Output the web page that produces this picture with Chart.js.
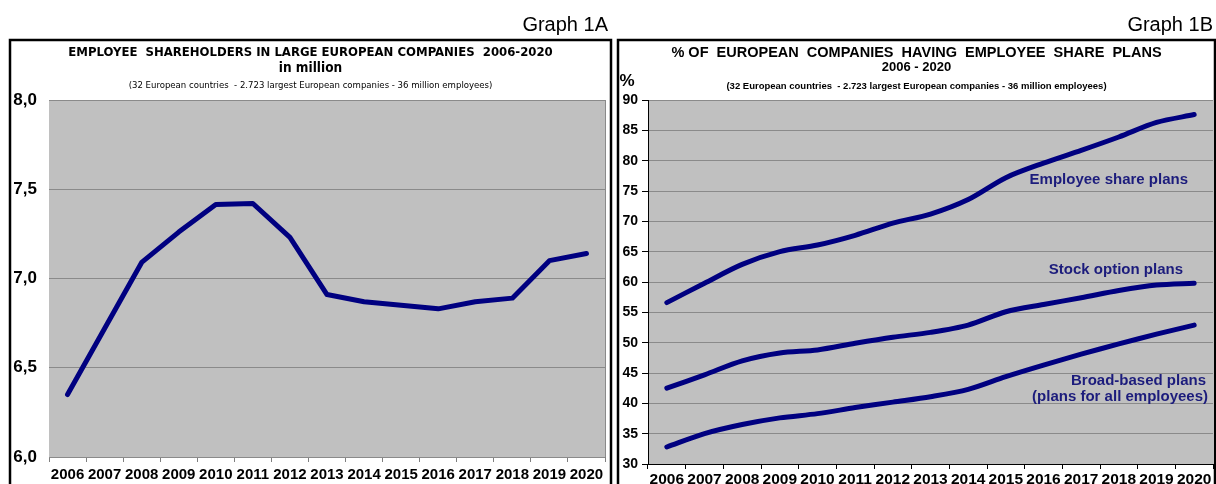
<!DOCTYPE html>
<html>
<head>
<meta charset="utf-8">
<script src="https://cdn.jsdelivr.net/npm/chart.js@4.4.1/dist/chart.umd.min.js"></script>
<style>
  html, body { margin: 0; padding: 0; background: #fff; }
  #wrap { position: relative; width: 1216px; height: 484px; overflow: hidden; }
  .box { position: absolute; top: 0; height: 484px; }
  #boxA { left: 0; width: 614px; }
  #boxB { left: 614px; width: 602px; }
</style>
</head>
<body>
<div id="wrap">
  <div class="box" id="boxA"><canvas id="chartA"></canvas></div>
  <div class="box" id="boxB"><canvas id="chartB"></canvas></div>
</div>
<script>
// data
const years = ['2006', '2007', '2008', '2009', '2010', '2011', '2012', '2013', '2014', '2015', '2016', '2017', '2018', '2019', '2020'];

// Graph 1A - employee shareholders, million
const shareholders = [6.35, 6.72, 7.09, 7.26, 7.415, 7.42, 7.23, 6.91, 6.87, 6.85, 6.83, 6.87, 6.89, 7.10, 7.14];

// Graph 1B - % of companies
const employeeSharePlans = [56.6, 59.8, 62.9, 65.0, 66.1, 67.7, 69.7, 71.2, 73.6, 77.2, 79.6, 81.7, 83.9, 86.3, 87.6];
const stockOptionPlans = [42.5, 44.7, 47.0, 48.3, 48.8, 49.9, 50.9, 51.7, 52.9, 55.1, 56.3, 57.4, 58.6, 59.5, 59.8];
const broadBasedPlans = [32.8, 35.0, 36.5, 37.6, 38.3, 39.3, 40.2, 41.1, 42.3, 44.4, 46.3, 48.1, 49.8, 51.4, 52.9];

const titleA = ['EMPLOYEE  SHAREHOLDERS IN LARGE EUROPEAN COMPANIES  2006-2020', 'in million'];
const titleB = ['% OF  EUROPEAN  COMPANIES  HAVING  EMPLOYEE  SHARE  PLANS', '2006 - 2020'];
const subtitle = '(32 European countries  - 2.723 largest European companies - 36 million employees)';
const lineNames = ['Employee share plans', 'Stock option plans', 'Broad-based plans', '(plans for all employees)'];

const NAVY = '#000080';
const LABEL_NAVY = '#1c1c7c';
const ARIAL = '"Liberation Sans", Arial, sans-serif';
const NARROW = '"Liberation Sans Narrow", "Arial Narrow", "DejaVu Sans Condensed", sans-serif';

// grey plot area, black frame, titles and line labels
const decor = {
  id: 'decor',
  beforeDraw(chart, args, opts) {
    const { ctx, chartArea: a } = chart;
    ctx.save();
    ctx.fillStyle = '#c0c0c0';
    ctx.fillRect(a.left, a.top, a.right - a.left, a.bottom - a.top);
    ctx.restore();
  },
  afterDraw(chart, args, opts) {
    const { ctx, chartArea: a } = chart;
    const f = opts.frame;
    ctx.save();
    if (opts.rightEdge) {
      ctx.strokeStyle = opts.rightEdge;
      ctx.lineWidth = 1;
      ctx.beginPath();
      ctx.moveTo(a.right + 0.5, a.top);
      ctx.lineTo(a.right + 0.5, a.bottom);
      ctx.stroke();
    }
    ctx.strokeStyle = '#000';
    ctx.lineWidth = f.width;
    ctx.strokeRect(f.left, f.top, f.right - f.left, 600);

    const mid = (f.left + f.right) / 2;
    ctx.textBaseline = 'middle';
    opts.texts.forEach(t => {
      ctx.font = t.font;
      ctx.fillStyle = t.color || '#000';
      ctx.textAlign = t.align || 'center';
      ctx.fillText(t.text, t.x == null ? mid : t.x, t.y);
    });

    const ys = chart.scales.y;
    (opts.lineLabels || []).forEach(l => {
      ctx.font = l.font;
      ctx.fillStyle = LABEL_NAVY;
      ctx.textAlign = 'right';
      ctx.fillText(l.text, a.right - l.inset, ys.getPixelForValue(l.at));
    });
    ctx.restore();
  }
};

const lineStyle = {
  borderColor: NAVY,
  borderWidth: 5,
  pointRadius: 0,
  borderCapStyle: 'round',
  borderJoinStyle: 'round',
  fill: false
};

new Chart(document.getElementById('chartA'), {
  type: 'line',
  data: {
    labels: years,
    datasets: [Object.assign({ data: shareholders, tension: 0 }, lineStyle)]
  },
  options: {
    responsive: true,
    maintainAspectRatio: false,
    animation: false,
    layout: { padding: { left: 9, right: 9, top: 100, bottom: 0 } },
    plugins: {
      legend: { display: false },
      tooltip: { enabled: false },
      decor: {
        frame: { left: 10, right: 611, top: 40, width: 2.5 },
        rightEdge: '#8a8a8a',
        texts: [
          { text: 'Graph 1A', x: 608, y: 25, font: '20px ' + ARIAL, align: 'right' },
          { text: titleA[0], y: 53, font: 'bold 13px ' + NARROW },
          { text: titleA[1], y: 68, font: 'bold 13.5px ' + NARROW },
          { text: subtitle, y: 86, font: '9.5px ' + NARROW }
        ]
      }
    },
    scales: {
      x: {
        offset: true,
        grid: { offset: true, drawOnChartArea: false, tickLength: 5, color: '#808080' },
        border: { display: false },
        ticks: { autoSkip: false, maxRotation: 0, padding: 4, color: '#000', font: { family: ARIAL, size: 15, weight: 'bold' } },
        afterFit: s => { s.height = 27; }
      },
      y: {
        min: 6,
        max: 8,
        grid: { color: '#8a8a8a', drawTicks: false },
        border: { display: false },
        ticks: {
          stepSize: 0.5,
          padding: 12,
          color: '#000',
          font: { family: ARIAL, size: 17, weight: 'bold' },
          callback: v => v.toFixed(1).replace('.', ',')
        },
        afterFit: s => { s.width = 40; }
      }
    }
  },
  plugins: [decor]
});

new Chart(document.getElementById('chartB'), {
  type: 'line',
  data: {
    labels: years,
    datasets: [
      Object.assign({ data: employeeSharePlans, tension: 0.3 }, lineStyle),
      Object.assign({ data: stockOptionPlans, tension: 0.3 }, lineStyle),
      Object.assign({ data: broadBasedPlans, tension: 0.3 }, lineStyle)
    ]
  },
  options: {
    responsive: true,
    maintainAspectRatio: false,
    animation: false,
    layout: { padding: { left: 4, right: 3, top: 100, bottom: 0 } },
    plugins: {
      legend: { display: false },
      tooltip: { enabled: false },
      decor: {
        frame: { left: 4, right: 601, top: 40, width: 2.5 },
        texts: [
          { text: 'Graph 1B', x: 599, y: 25, font: '20px ' + ARIAL, align: 'right' },
          { text: titleB[0], y: 53, font: 'bold 14.5px ' + ARIAL },
          { text: titleB[1], y: 67, font: 'bold 13px ' + ARIAL },
          { text: subtitle, y: 86, font: 'bold 9.5px ' + ARIAL },
          { text: '%', x: 13, y: 81, font: 'bold 17px ' + ARIAL }
        ],
        lineLabels: [
          { text: lineNames[0], at: 76.8, inset: 25, font: 'bold 15px ' + ARIAL },
          { text: lineNames[1], at: 62.0, inset: 30, font: 'bold 15px ' + ARIAL },
          { text: lineNames[2], at: 43.7, inset: 7, font: 'bold 15px ' + ARIAL },
          { text: lineNames[3], at: 41.1, inset: 5, font: 'bold 15px ' + ARIAL }
        ]
      }
    },
    scales: {
      x: {
        offset: true,
        grid: { offset: true, drawOnChartArea: false, tickLength: 5, tickColor: '#000' },
        border: { display: true, color: '#000', width: 1 },
        ticks: { autoSkip: false, maxRotation: 0, padding: 1, color: '#000', font: { family: ARIAL, size: 15.5, weight: 'bold' } },
        afterFit: s => { s.height = 20; }
      },
      y: {
        min: 30,
        max: 90,
        grid: { color: '#8a8a8a', tickColor: '#000', tickLength: 6 },
        border: { display: true, color: '#000', width: 1 },
        ticks: { stepSize: 5, padding: 4, color: '#000', font: { family: ARIAL, size: 14, weight: 'bold' } },
        afterFit: s => { s.width = 30; }
      }
    }
  },
  plugins: [decor]
});
</script>
</body>
</html>
